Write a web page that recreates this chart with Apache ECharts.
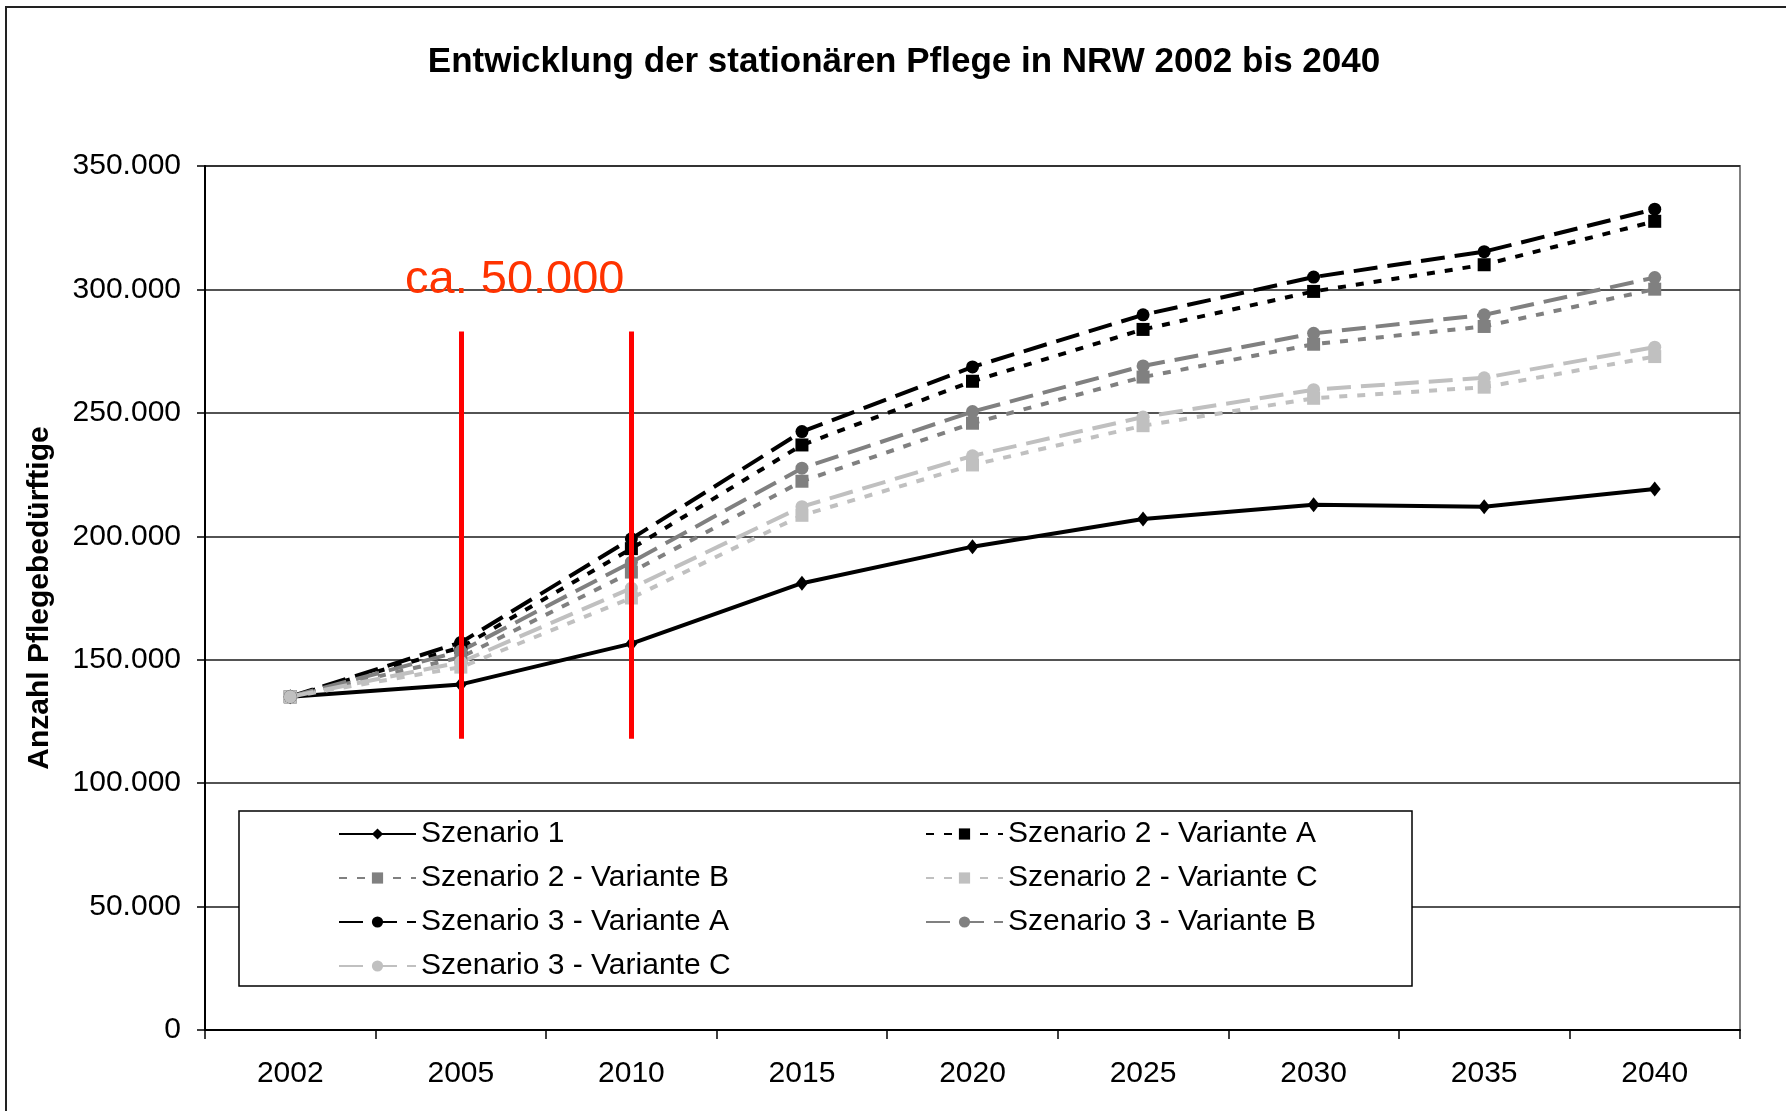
<!DOCTYPE html>
<html lang="de">
<head>
    <meta charset="UTF-8">
    <title>Entwicklung der stationären Pflege</title>
    <script type="text/javascript" src="https://cdn.jsdelivr.net/npm/echarts@6/dist/echarts.min.js"></script>
    <style>body { margin: 0; background: #fff; }</style>
</head>
<body>
    <div id="main" style="width: 1786px; height: 1111px"></div>
    <script type="text/javascript">
        // Jahre und Werte
        var years = ['2002', '2005', '2010', '2015', '2020', '2025', '2030', '2035', '2040'];
        var szenario1 = [135000, 140000, 156500, 181000, 195800, 207000, 212800, 212000, 219200];
        var sz2VarA = [135000, 155000, 195000, 237000, 262800, 283800, 299200, 310000, 327600];
        var sz2VarB = [135000, 151000, 185500, 222300, 245800, 264500, 277800, 285000, 300100];
        var sz2VarC = [135000, 147000, 175000, 208500, 228900, 244800, 255900, 260400, 272800];
        var sz3VarA = [135000, 157000, 199000, 242400, 268600, 289700, 305000, 315300, 332500];
        var sz3VarB = [135000, 153500, 189500, 227600, 250500, 269000, 282200, 289700, 304800];
        var sz3VarC = [135000, 149000, 179000, 212000, 232600, 248300, 259400, 264200, 276600];
        // rote Markierung: Jahre und Wertebereich
        var markYears = ['2005', '2010'];
        var markRange = [118000, 283000];
        var markText = 'ca. 50.000';

        var FONT = "'Liberation Sans', Arial, sans-serif";
        var BLACK = '#000000', GRAY = '#808080', LIGHT = '#c0c0c0';
        var DOT = [8, 10], DASH = [24, 10];

        function tausender(v) {
            return String(v).replace(/\B(?=(\d{3})+(?!\d))/g, '.');
        }

        function line(name, data, color, dash, symbol, size) {
            return {
                name: name,
                type: 'line',
                data: data,
                symbol: symbol,
                symbolSize: size,
                showAllSymbol: true,
                lineStyle: { color: color, width: 4, type: dash },
                itemStyle: { color: color, borderWidth: 0 }
            };
        }

        var markLines = markYears.map(function (y) {
            return [{ coord: [y, markRange[0]] }, { coord: [y, markRange[1]] }];
        });

        var s1 = line('Szenario 1', szenario1, BLACK, 'solid', 'diamond', [12, 15]);
        s1.markLine = {
            silent: true,
            symbol: ['none', 'none'],
            label: { show: false },
            lineStyle: { color: '#ff0000', width: 5, type: 'solid' },
            data: markLines
        };

        var series = [
            s1,
            line('Szenario 2 - Variante A', sz2VarA, BLACK, DOT, 'rect', 13),
            line('Szenario 2 - Variante B', sz2VarB, GRAY, DOT, 'rect', 13),
            line('Szenario 2 - Variante C', sz2VarC, LIGHT, DOT, 'rect', 13),
            line('Szenario 3 - Variante A', sz3VarA, BLACK, DASH, 'circle', 13),
            line('Szenario 3 - Variante B', sz3VarB, GRAY, DASH, 'circle', 13),
            line('Szenario 3 - Variante C', sz3VarC, LIGHT, DASH, 'circle', 13)
        ];
        series[3].z = 3;

        var legendCommon = {
            orient: 'vertical',
            top: 819,
            itemWidth: 77,
            itemHeight: 14,
            itemGap: 14,
            padding: 0,
            textStyle: { fontFamily: FONT, fontSize: 30, lineHeight: 30, color: '#000' }
        };

        var myChart = echarts.init(document.getElementById('main'));
        var option = {
            animation: false,
            backgroundColor: '#fff',
            textStyle: { fontFamily: FONT },
            title: {
                text: 'Entwicklung der stationären Pflege in NRW 2002 bis 2040',
                left: 904,
                textAlign: 'center',
                top: 45,
                padding: 0,
                textStyle: { fontFamily: FONT, fontSize: 35, fontWeight: 'bold', color: '#000' }
            },
            grid: {
                left: 205, right: 46, top: 166, bottom: 81,
                show: true, borderColor: GRAY, borderWidth: 2, backgroundColor: 'transparent'
            },
            legend: [
                Object.assign({}, legendCommon, {
                    left: 338,
                    data: ['Szenario 1', 'Szenario 2 - Variante B', 'Szenario 3 - Variante A', 'Szenario 3 - Variante C']
                }),
                Object.assign({}, legendCommon, {
                    left: 925,
                    data: ['Szenario 2 - Variante A', 'Szenario 2 - Variante C', 'Szenario 3 - Variante B']
                })
            ],
            xAxis: {
                type: 'category',
                data: years,
                boundaryGap: true,
                axisLine: { lineStyle: { color: '#000', width: 2 } },
                axisTick: { show: true, length: 9, lineStyle: { color: '#000', width: 1.5 } },
                axisLabel: { margin: 29, fontSize: 30, color: '#000', fontFamily: FONT },
                splitLine: { show: false }
            },
            yAxis: {
                type: 'value',
                min: 0, max: 350000, interval: 50000,
                name: 'Anzahl Pflegebedürftige',
                nameLocation: 'middle',
                nameRotate: 90,
                nameGap: 150,
                nameTextStyle: { fontFamily: FONT, fontSize: 30, fontWeight: 'bold', color: '#000' },
                axisLine: { show: true, lineStyle: { color: '#000', width: 2 } },
                axisTick: { show: true, length: 8, lineStyle: { color: '#000', width: 1.5 } },
                axisLabel: { margin: 24, fontSize: 30, color: '#000', fontFamily: FONT, formatter: tausender },
                splitLine: { show: true, lineStyle: { color: '#1a1a1a', width: 1.5 } }
            },
            graphic: [
                {
                    type: 'rect', z: 100, silent: true,
                    shape: { x: 6, y: 7, width: 1900, height: 1200 },
                    style: { fill: 'none', stroke: '#222', lineWidth: 2 }
                },
                {
                    type: 'rect', z: 3, silent: true,
                    shape: { x: 239, y: 811, width: 1173, height: 175 },
                    style: { fill: '#fff', stroke: '#000', lineWidth: 1.5 }
                },
                {
                    type: 'text', z: 10, silent: true,
                    left: 405, top: 257,
                    style: { text: markText, fill: '#ff3300', fontFamily: FONT, fontSize: 47 }
                }
            ],
            series: series
        };
        myChart.setOption(option);
    </script>
</body>
</html>
